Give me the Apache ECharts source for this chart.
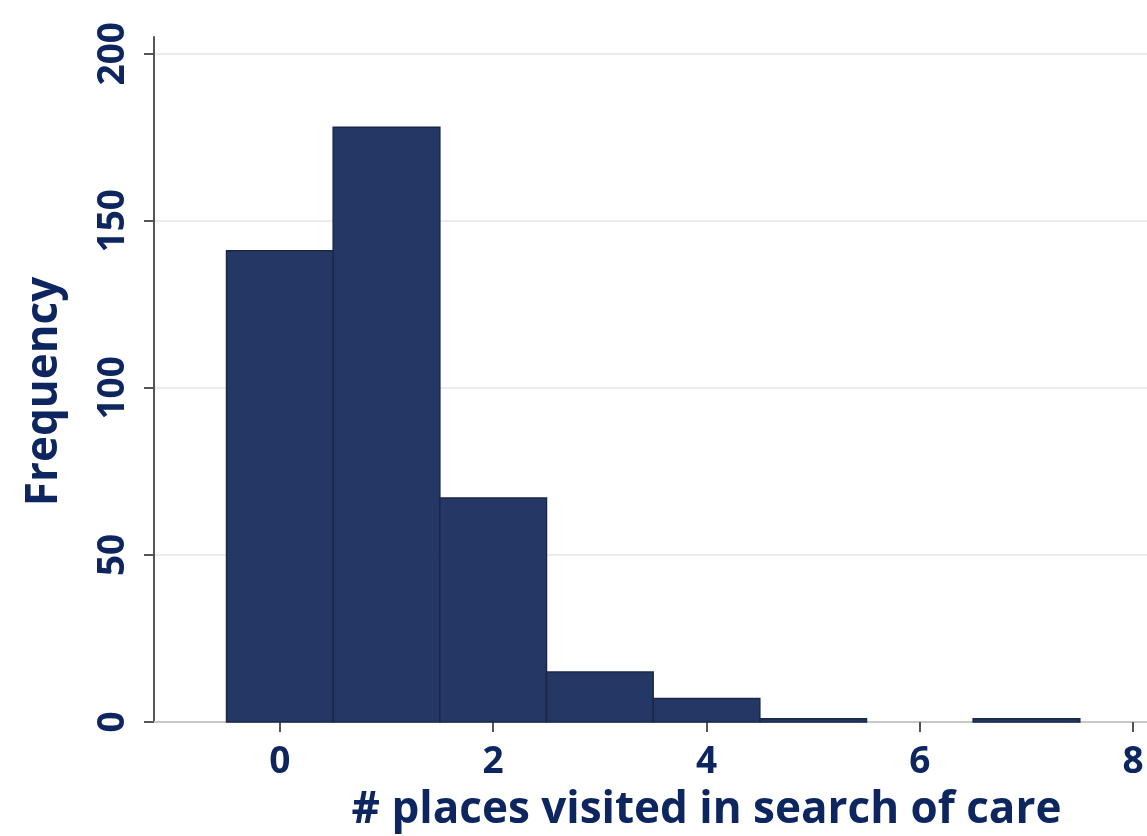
<!DOCTYPE html>
<html>
<head>
    <meta charset="utf-8" />
    <title>places_hist</title>
    <script src="https://cdn.jsdelivr.net/npm/echarts@6/dist/echarts.min.js"></script>
    <style>
        html, body { margin: 0; padding: 0; background: #fff; }
        #container { width: 1147px; height: 836px; }
    </style>
</head>
<body>
    <div id="container"></div>
</body>
</html>
<script>
    var bins = [0, 1, 2, 3, 4, 5, 6, 7];            // bar centres, width 1
    var counts = [141, 178, 67, 15, 7, 1, 0, 1];    // frequency
    var xTicks = [0, 2, 4, 6, 8];
    var yTicks = [0, 50, 100, 150, 200];

    var navy = "#0d2660";
    var font = "'Open Sans', 'Noto Sans', sans-serif";

    var data = [];
    for (var i = 0; i < bins.length; i++) {
        data.push([bins[i], counts[i]]);
    }

    var myChart = echarts.init(document.getElementById("container"));
    myChart.setOption({
        animation: false,
        grid: { left: 154, right: 0, top: 37, bottom: 114, outerBoundsMode: "none", containLabel: false },
        xAxis: {
            type: "value",
            min: -1.18,
            max: 8.13,
            name: "# places visited in search of care",
            nameLocation: "middle",
            nameGap: 66,
            nameTextStyle: { color: navy, fontSize: 44, fontWeight: "bold", fontFamily: font, padding: [0, 0, 0, 112] },
            axisLine: { onZero: false, lineStyle: { color: "#c8c8c8", width: 2 } },
            axisTick: { customValues: xTicks, length: 10, lineStyle: { color: "#555", width: 2 } },
            axisLabel: { customValues: xTicks, margin: 22, color: navy, fontSize: 37, fontWeight: "bold", fontFamily: font },
            splitLine: { show: false }
        },
        yAxis: {
            type: "value",
            min: 0,
            max: 205,
            name: "Frequency",
            nameLocation: "middle",
            nameGap: 88,
            nameTextStyle: { color: navy, fontSize: 44, fontWeight: "bold", fontFamily: font, padding: [0, 24, 0, 0] },
            axisLine: { show: true, onZero: false, lineStyle: { color: "#555", width: 2 } },
            axisTick: { customValues: yTicks, length: 10, lineStyle: { color: "#555", width: 2 } },
            axisLabel: { customValues: yTicks, rotate: 90, margin: 22, color: navy, fontSize: 37, fontWeight: "bold", fontFamily: font },
            splitLine: { show: true, lineStyle: { color: "#ebebeb", width: 2 } }
        },
        series: [{
            type: "custom",
            data: data,
            renderItem: function (params, api) {
                var x = api.value(0);
                var v = api.value(1);
                if (!v) { return; }
                var p0 = api.coord([x - 0.5, v]);
                var p1 = api.coord([x + 0.5, 0]);
                return {
                    type: "rect",
                    shape: { x: p0[0], y: p0[1], width: p1[0] - p0[0], height: p1[1] - p0[1] },
                    style: { fill: "#253764", stroke: "#1a2748", lineWidth: 1.5 }
                };
            }
        }]
    });
</script>
